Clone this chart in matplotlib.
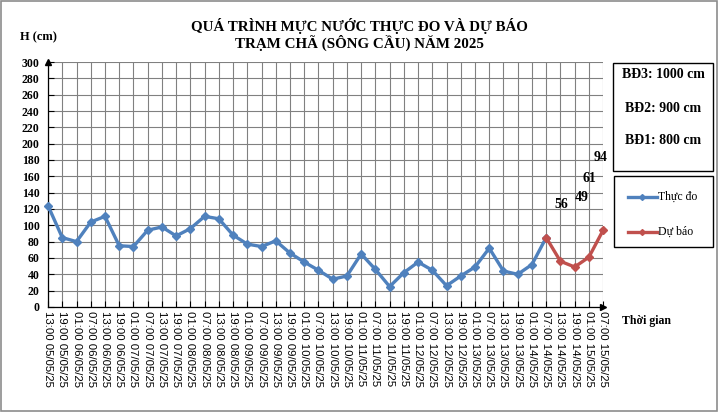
import pandas as pd
import matplotlib
matplotlib.use("Agg")
import matplotlib.pyplot as plt
from matplotlib.patches import Rectangle
from matplotlib.lines import Line2D

# time axis: every 6 hours from 13:00 05/05/25 to 07:00 15/05/25
times = pd.date_range("2025-05-05 13:00", "2025-05-15 07:00", freq="6h")
categories = [t.strftime("%H:%M %d/%m/%y") for t in times]

measured = [124, 85, 80, 104, 111, 75, 74, 94, 98, 87, 96, 111, 108, 88, 77,
            74, 81, 66, 55, 45, 34, 38, 65, 46, 25, 42, 55, 45, 26, 38, 49,
            72, 44, 40, 52, 85]
forecast = [85, 56, 49, 61, 94]          # starts at the last measured point
forecast_start = len(measured) - 1
forecast_labels = ["", "56", "49", "61", "94"]
label_offsets = [(0, 0), (1, 36), (5, 45), (0, 52), (-2, 48)]   # points

levels = ["BĐ3: 1000 cm", "BĐ2: 900 cm", "BĐ1: 800 cm"]

blue = "#4F81BD"
red = "#C0504D"
serif = "Liberation Serif"

fig = plt.figure(figsize=(7.18, 4.12), dpi=100)
fig.patches.append(Rectangle((0.001, 0.002), 0.997, 0.995, transform=fig.transFigure,
                             fill=False, edgecolor="#8c8c8c", linewidth=1.2))

ax = fig.add_axes([0.0669, 0.2549, 0.7731, 0.5946])
x_meas = list(range(len(measured)))
x_fc = list(range(forecast_start, forecast_start + len(forecast)))

ax.plot(x_meas, measured, color=blue, lw=2.4, marker="D", ms=4, zorder=3,
        clip_on=False)
ax.plot(x_fc, forecast, color=red, lw=2.4, marker="D", ms=4, zorder=3,
        clip_on=False)

for xi, yi, lab, off in zip(x_fc, forecast, forecast_labels, label_offsets):
    if lab:
        ax.annotate(lab, (xi, yi), xytext=off, textcoords="offset points",
                    ha="center", va="bottom", fontsize=10, fontweight="bold",
                    family=serif, annotation_clip=False)

ax.set_xlim(0, len(categories) - 1)
ax.set_ylim(0, 300)
ax.set_yticks(range(0, 301, 20))
ax.set_xticks(range(len(categories)))
ax.set_xticklabels(categories, rotation=-90, fontsize=8.2, family="Liberation Sans")
for lbl in ax.get_yticklabels():
    lbl.set_fontweight("bold")
    lbl.set_family(serif)
    lbl.set_fontsize(8.5)
ax.tick_params(axis="x", length=4, direction="in", pad=3, width=0.8)
ax.tick_params(axis="y", length=4, direction="in", pad=6, width=0.8)
ax.grid(True, color="#808080", lw=0.8)
ax.set_axisbelow(True)
for s in ["top", "right"]:
    ax.spines[s].set_visible(False)
for s in ["left", "bottom"]:
    ax.spines[s].set_color("black")
    ax.spines[s].set_linewidth(0.9)

# axis arrows
ax.plot(0, 1, marker="^", color="black", ms=5, transform=ax.transAxes, clip_on=False)
ax.plot(1, 0, marker=">", color="black", ms=5, transform=ax.transAxes, clip_on=False)

fig.text(0.50, 0.937, "QUÁ TRÌNH MỰC NƯỚC THỰC ĐO VÀ DỰ BÁO",
         ha="center", va="center", fontsize=10.8, fontweight="bold", family=serif)
fig.text(0.50, 0.895, "TRẠM CHÃ (SÔNG CẦU) NĂM 2025",
         ha="center", va="center", fontsize=10.8, fontweight="bold", family=serif)
fig.text(0.028, 0.91, "H (cm)", ha="left", va="center", fontsize=9,
         fontweight="bold", family=serif)
fig.text(0.866, 0.222, "Thời gian", ha="left", va="center", fontsize=8.5,
         fontweight="bold", family=serif)

# warning-level box
fig.patches.append(Rectangle((613 / 718, 1 - 171 / 412), 100 / 718, 108 / 412,
                             transform=fig.transFigure, fill=False,
                             edgecolor="black", lw=1))
for i, txt in enumerate(levels):
    fig.text(663 / 718, 1 - (75 + 33 * i) / 412, txt, ha="center", va="center",
             fontsize=10, fontweight="bold", family=serif)

# legend box
fig.patches.append(Rectangle((614 / 718, 1 - 247 / 412), 99 / 718, 71 / 412,
                             transform=fig.transFigure, fill=False,
                             edgecolor="black", lw=1))
for i, (name, col) in enumerate([("Thực đo", blue), ("Dự báo", red)]):
    yy = 1 - (197 + 35 * i) / 412
    fig.add_artist(Line2D([628 / 718, 657 / 718], [yy, yy], color=col, lw=2.4,
                          transform=fig.transFigure))
    fig.add_artist(Line2D([642 / 718], [yy], color=col, marker="D", ms=3,
                          transform=fig.transFigure))
    fig.text(658 / 718, yy, name, ha="left", va="center", fontsize=8.5,
             family=serif)

fig.savefig("out.png", dpi=100)
